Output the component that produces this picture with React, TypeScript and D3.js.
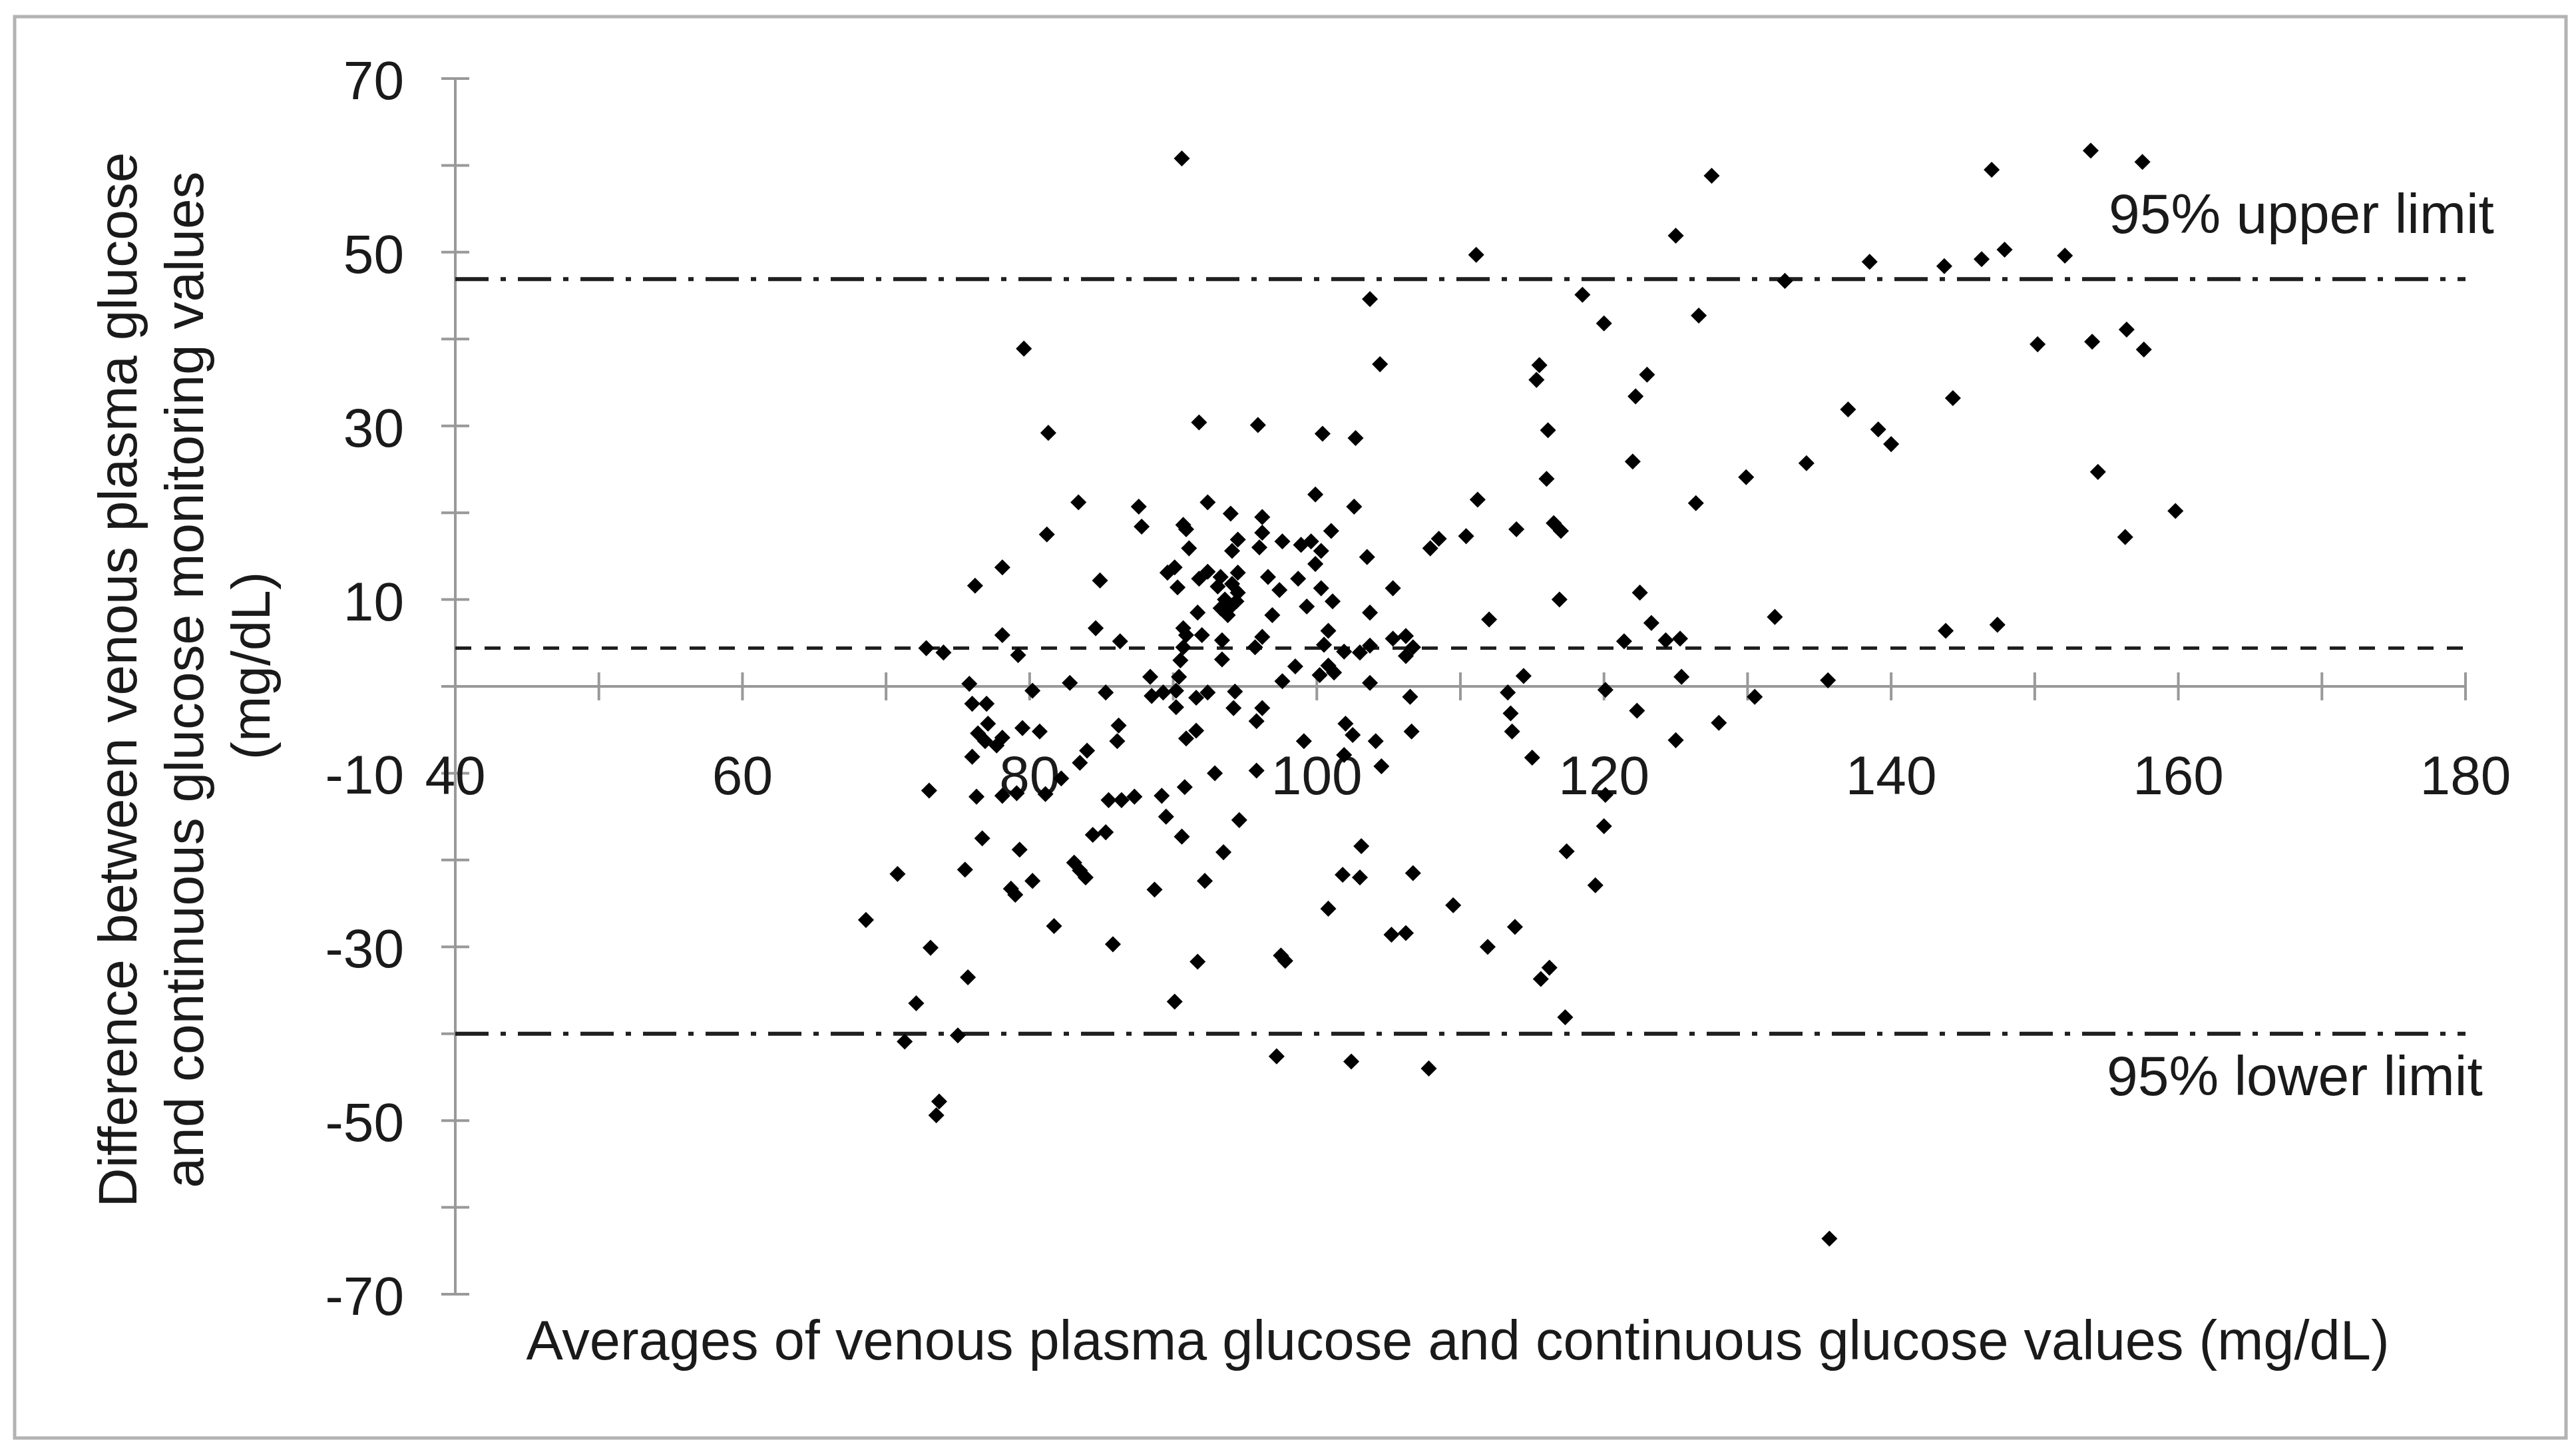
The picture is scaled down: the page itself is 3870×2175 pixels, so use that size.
import * as d3 from "d3";

const W = 3870;
const H = 2175;
const FONT = "'Liberation Sans', Arial, Helvetica, sans-serif";

// x: average of venous plasma glucose and CGM value (mg/dL)
const avgValues = [
  // left of 89
  79.6, 81.3, 83.4, 87.6, 87.8, 81.2, 78.1, 76.2, 84.9, 78.1, 84.6, 86.3,
  72.8, 74.0, 79.2, 75.8, 82.8, 88.4, 80.2, 85.3, 88.5, 89.3, 76.0, 77.0,
  77.1, 76.4, 76.9, 77.7, 78.1, 79.5, 80.7, 86.2, 86.1, 76.0, 83.5, 84.0,
  82.2, 73.0, 76.3, 78.1, 79.1, 81.1, 85.5, 86.4, 87.3, 89.2, 89.5, 84.4,
  85.3, 76.7, 79.3, 75.5, 70.8, 80.2, 78.7, 79.0, 83.1, 83.5, 83.9, 88.7,
  68.6, 81.7, 85.8, 73.1, 75.7, 72.1, 71.3, 75.0, 73.7, 73.5,
  // 89 to 113
  90.6, 103.7, 104.4, 111.1, 91.8, 95.9, 100.4, 102.7, 99.9, 102.6, 111.2,
  92.4, 94.0, 96.2, 90.7, 90.9, 91.1, 94.5, 94.1, 96.2, 96.0, 97.6, 98.9,
  99.6, 100.3, 99.9, 101.0, 103.5, 108.5, 107.9, 110.4, 89.6, 90.1, 90.3,
  91.8, 92.4, 93.3, 94.5, 93.1, 94.1, 94.5, 93.6, 93.3, 93.9, 93.8, 94.4,
  96.6, 97.4, 98.7, 100.3, 101.1, 99.3, 105.3, 103.7, 112.0, 91.7, 96.9,
  90.7, 90.9, 92.0, 93.4, 96.2, 95.7, 100.8, 100.5, 101.9, 103.0, 103.7,
  105.3, 106.2, 106.7, 106.2, 90.7, 90.5, 93.4, 98.5, 100.8, 100.2, 101.2,
  97.6, 103.7, 90.4, 90.2, 91.6, 92.4, 94.3, 106.5, 90.2, 94.2, 96.2, 95.8,
  91.6, 90.9, 102.0, 102.5, 106.6, 99.1, 104.1, 101.9, 104.5, 92.9, 95.8,
  90.8, 94.6, 90.6, 93.5, 103.1, 92.2, 101.8, 103.0, 106.7, 100.8, 109.5,
  105.2, 106.2, 111.9, 91.7, 97.5, 97.8, 90.1, 97.2, 102.4, 107.8,
  // right of 113
  116.1, 122.0, 134.1, 116.0, 129.9, 126.4, 113.9, 116.5, 117.0, 116.9,
  122.5, 123.3, 131.9, 121.4, 124.3, 125.3, 114.4, 125.4, 135.6, 113.3,
  120.1, 130.5, 113.5, 122.3, 128.0, 113.6, 125.0, 115.0, 120.1, 120.0,
  117.4, 119.4, 113.8, 116.2, 115.6, 117.3, 135.7, 127.5, 125.0, 118.5,
  126.6, 120.0, 115.5, 115.3, 123.0, 122.2, 132.6, 138.5, 143.7, 146.3,
  147.9, 152.1, 147.0, 153.9, 157.5, 150.2, 154.0, 156.4, 157.6, 144.3,
  137.0, 139.1, 140.0, 154.4, 159.8, 156.3, 143.8, 147.4,
];

// y: venous plasma glucose minus CGM value (mg/dL), same order as avgValues
const diffValues = [
  38.9, 29.2, 21.2, 20.7, 18.4, 17.5, 13.7, 11.6, 12.2, 5.9, 6.7, 5.2,
  4.4, 3.9, 3.6, 0.3, 0.4, 1.1, -0.5, -0.7, -1.1, -0.7, -2.0, -2.0,
  -4.3, -5.4, -6.3, -6.8, -5.9, -4.8, -5.2, -4.5, -6.3, -8.1, -8.8, -7.4,
  -10.6, -12.0, -12.7, -12.6, -12.3, -12.4, -13.1, -13.1, -12.7, -12.6, -15.0, -17.1,
  -16.8, -17.5, -18.8, -21.1, -21.6, -22.4, -23.3, -24.0, -20.3, -21.2, -22.0, -23.4,
  -26.9, -27.6, -29.7, -30.1, -33.5, -36.5, -40.9, -40.2, -47.8, -49.4,
  60.8, 44.6, 37.1, 49.7, 30.4, 30.1, 29.1, 28.6, 22.1, 20.7, 21.5,
  21.2, 19.9, 19.5, 18.6, 18.1, 15.9, 16.9, 15.6, 17.7, 16.0, 16.7, 16.3,
  16.7, 15.6, 14.1, 17.9, 14.9, 17.0, 15.9, 17.3, 13.1, 13.7, 11.4,
  12.4, 13.2, 12.6, 13.1, 11.5, 11.8, 10.8, 10.0, 9.0, 9.0, 8.2, 9.8,
  12.6, 11.1, 12.4, 11.3, 9.8, 9.2, 11.3, 8.5, 7.7, 8.5, 8.2,
  6.7, 5.9, 5.9, 5.3, 5.7, 4.5, 6.4, 4.8, 4.0, 3.9, 4.7,
  5.5, 5.8, 4.5, 3.5, 4.5, 3.0, 3.1, 2.3, 2.4, 1.3, 1.6,
  0.6, 0.4, 1.1, -0.5, -1.3, -0.7, -0.6, -1.2, -2.4, -2.5, -2.5, -4.0,
  -5.1, -6.0, -4.3, -5.6, -5.2, -6.3, -6.3, -7.9, -9.2, -10.0, -9.7,
  -11.6, -15.4, -17.3, -19.1, -18.4, -22.4, -21.7, -22.0, -21.5, -25.6, -25.2,
  -28.6, -28.4, -30.0, -31.7, -31.0, -31.6, -36.3, -42.6, -43.2, -44.0,
  29.5, 25.9, 25.7, 23.9, 24.1, 21.1, 18.1, 18.8, 17.9, 10.0,
  10.8, 7.3, 8.0, 5.2, 5.3, 5.5, 1.2, 1.1, 0.7, -0.7,
  -0.4, -1.2, -3.1, -2.8, -4.2, -5.2, -6.2, -8.2, -12.5, -16.1,
  -19.0, -22.9, -27.7, -32.4, -33.7, -38.1, -63.6, 58.8, 51.9, 45.1,
  42.7, 41.8, 37.0, 35.3, 35.9, 33.4, 46.7, 48.9, 48.4, 49.2,
  50.3, 49.6, 59.5, 61.7, 60.4, 39.4, 39.7, 41.1, 38.8, 33.2,
  31.9, 29.6, 27.9, 24.7, 20.2, 17.2, 6.4, 7.1,
];

const meanDiff = 4.4;
const upperLimit = 46.9;
const lowerLimit = -40.0;

const xTickValues = [40, 50, 60, 70, 80, 90, 100, 110, 120, 130, 140, 150, 160, 170, 180];
const xTickLabels = [40, 60, 80, 100, 120, 140, 160, 180];
const yTickValues = [-70, -60, -50, -40, -30, -20, -10, 0, 10, 20, 30, 40, 50, 60, 70];
const yTickLabels = [70, 50, 30, 10, -10, -30, -50, -70];

const yTitleLines = [
  "Difference between venous plasma glucose",
  "and continuous glucose monitoring values",
  "(mg/dL)",
];
const xTitle =
  "Averages of venous plasma glucose and continuous glucose values (mg/dL)";

export default function App() {
  const x = d3.scaleLinear().domain([40, 180]).range([684, 3704]);
  const y = d3.scaleLinear().domain([-70, 70]).range([1944, 118]);

  const diamond = d3.symbol(d3.symbolSquare, 290)() ?? "";
  const hLine = d3
    .line<[number, number]>()
    .x((d) => x(d[0]))
    .y((d) => y(d[1]));
  const span = (v: number): [number, number][] => [
    [40, v],
    [180, v],
  ];

  const axisColor = "#999";
  const textColor = "#1a1a1a";
  const lineColor = "#1f1f1f";
  const tickHalf = 21;

  return (
    <svg
      width={W}
      height={H}
      style={{ position: "absolute", left: 0, top: 0, background: "#fff" }}
      fontFamily={FONT}
    >
      <rect x={0} y={0} width={W} height={H} fill="#fff" />
      <rect
        x={22}
        y={25}
        width={3833}
        height={2135}
        fill="none"
        stroke="#b3b3b3"
        strokeWidth={5}
      />

      {/* y axis */}
      <line x1={x(40)} x2={x(40)} y1={y(70)} y2={y(-70)} stroke={axisColor} strokeWidth={4} />
      {yTickValues.map((t) => (
        <line
          key={`yt-${t}`}
          x1={x(40) - tickHalf}
          x2={x(40) + tickHalf}
          y1={y(t)}
          y2={y(t)}
          stroke={axisColor}
          strokeWidth={4}
        />
      ))}
      {yTickLabels.map((t) => (
        <text
          key={`yl-${t}`}
          x={607}
          y={y(t) + 31}
          textAnchor="end"
          fontSize={82}
          fill={textColor}
        >
          {t}
        </text>
      ))}

      {/* x axis at zero */}
      <line x1={x(40)} x2={x(180)} y1={y(0)} y2={y(0)} stroke={axisColor} strokeWidth={4} />
      {xTickValues.map((t) => (
        <line
          key={`xt-${t}`}
          x1={x(t)}
          x2={x(t)}
          y1={y(0) - tickHalf}
          y2={y(0) + tickHalf}
          stroke={axisColor}
          strokeWidth={4}
        />
      ))}
      {xTickLabels.map((t) => (
        <text
          key={`xl-${t}`}
          x={x(t)}
          y={1193}
          textAnchor="middle"
          fontSize={82}
          fill={textColor}
        >
          {t}
        </text>
      ))}

      {/* mean and 95% limits of agreement */}
      <path
        d={hLine(span(upperLimit)) ?? ""}
        stroke={lineColor}
        strokeWidth={6}
        fill="none"
        strokeDasharray="50,18,8,18"
      />
      <path
        d={hLine(span(meanDiff)) ?? ""}
        stroke={lineColor}
        strokeWidth={5}
        fill="none"
        strokeDasharray="24,20"
      />
      <path
        d={hLine(span(lowerLimit)) ?? ""}
        stroke={lineColor}
        strokeWidth={6}
        fill="none"
        strokeDasharray="50,18,8,18"
      />

      {/* points */}
      <g fill="#000">
        {avgValues.map((a, i) => (
          <path
            key={`p-${i}`}
            d={diamond}
            transform={`translate(${x(a)},${y(diffValues[i])}) rotate(45)`}
          />
        ))}
      </g>

      {/* annotations */}
      <text x={3168} y={350} fontSize={84} fill={textColor}>
        95% upper limit
      </text>
      <text x={3165} y={1645} fontSize={84} fill={textColor}>
        95% lower limit
      </text>

      {/* axis titles */}
      {yTitleLines.map((line, i) => (
        <text
          key={`yt-line-${i}`}
          transform={`translate(${205 + i * 100},${i === 2 ? 1000 : 1021}) rotate(-90)`}
          textAnchor="middle"
          fontSize={82}
          fill={textColor}
        >
          {line}
        </text>
      ))}
      <text x={2190} y={2042} textAnchor="middle" fontSize={83} fill={textColor}>
        {xTitle}
      </text>
    </svg>
  );
}
